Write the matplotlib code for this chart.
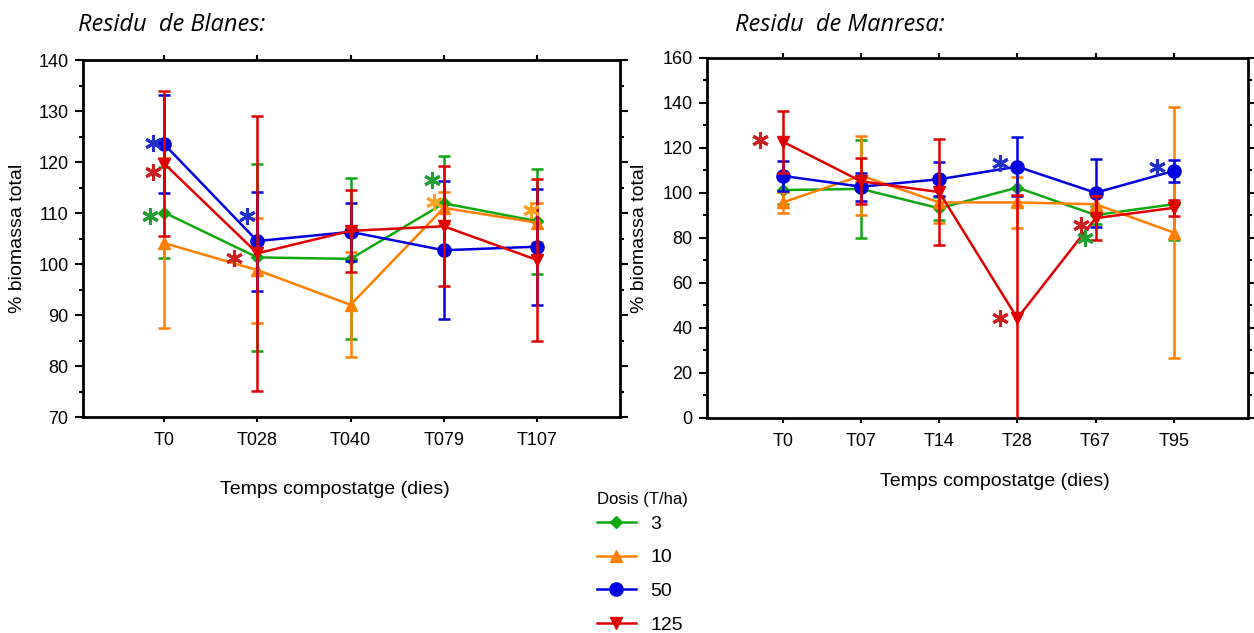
import matplotlib.pyplot as plt
from matplotlib.ticker import MultipleLocator

plt.rcParams['font.family'] = ['Liberation Sans', 'DejaVu Sans']

# --- data -------------------------------------------------------------
doses = ['3', '10', '50', '125']
colors = ['#10a810', '#ff8000', '#0000e0', '#e00000']
star_colors = ['#20a030', '#ffa020', '#2030c8', '#cc2020']
markers = ['D', '^', 'o', 'v']
msizes = [6.5, 9, 9.5, 9]

blanes_times = ['T0', 'T028', 'T040', 'T079', 'T107']
blanes_mean = [
    [110.1, 101.3, 101.0, 111.9, 108.4],   # 3
    [104.1, 98.8, 92.0, 111.0, 108.1],     # 10
    [123.5, 104.5, 106.3, 102.7, 103.4],   # 50
    [119.7, 102.1, 106.5, 107.4, 100.8],   # 125
]
blanes_err = [
    [9.0, 18.3, 15.8, 9.3, 10.3],
    [16.6, 10.3, 10.3, 3.1, 3.8],
    [9.6, 9.7, 5.7, 13.5, 11.4],
    [14.3, 27.0, 8.0, 11.8, 15.8],
]
# significance asterisks: (dose index, time index, x shift, y)
blanes_stars = [(2, 0, -0.12, 123.7), (3, 0, -0.12, 118.0), (0, 0, -0.15, 109.4),
                (2, 1, -0.11, 109.4), (3, 1, -0.25, 101.2), (0, 3, -0.13, 116.5),
                (1, 3, -0.11, 112.2), (1, 4, -0.06, 110.6)]

manresa_times = ['T0', 'T07', 'T14', 'T28', 'T67', 'T95']
manresa_mean = [
    [101.3, 101.8, 93.2, 102.4, 90.2, 95.0],
    [95.8, 107.7, 95.8, 95.8, 95.0, 82.4],
    [107.6, 102.8, 106.1, 111.7, 100.1, 109.8],
    [122.8, 105.2, 100.4, 44.3, 88.8, 93.4],
]
manresa_err = [
    [6.0, 21.8, 5.0, 8.0, 4.0, 16.0],
    [4.5, 17.7, 9.0, 11.3, 3.0, 55.7],
    [6.8, 6.3, 7.5, 13.0, 15.0, 4.7],
    [13.8, 10.2, 23.5, 55.0, 9.7, 3.5],
]
manresa_stars = [(3, 0, -0.29, 123.5), (2, 3, -0.22, 113.3), (2, 5, -0.22, 111.6),
                 (3, 4, -0.19, 85.8), (0, 4, -0.13, 80.0), (3, 3, -0.22, 44.4)]

# --- figure -----------------------------------------------------------
fig = plt.figure(figsize=(12.54, 6.33), dpi=100)
ax1 = fig.add_axes([0.0662, 0.3412, 0.4282, 0.5640])
ax2 = fig.add_axes([0.5638, 0.3397, 0.4314, 0.5687])


def draw(ax, times, means, errs, stars):
    xs = list(range(len(times)))
    lines = []
    for i in range(len(doses)):
        eb = ax.errorbar(xs, means[i], yerr=errs[i], color=colors[i], marker=markers[i],
                         ms=msizes[i], lw=1.8, elinewidth=1.8, capsize=4, capthick=1.8,
                         label=doses[i], zorder=3 + i)
        lines.append(eb[0])
    for d, t, dx, y in stars:
        ax.plot(t + dx, y, marker=(6, 2, 0), ms=12, mew=2.2, color=star_colors[d],
                linestyle='none', zorder=10)
    ax.set_xticks(xs)
    ax.set_xticklabels(times, fontsize=13)
    for sp in ax.spines.values():
        sp.set_linewidth(2)
    ax.tick_params(axis='x', which='major', direction='out', length=3.5, width=1.5,
                   top=True, pad=7)
    ax.tick_params(axis='y', which='major', direction='out', length=5.5, width=1.5,
                   right=True, labelsize=13, pad=5)
    ax.tick_params(axis='y', which='minor', direction='out', length=3, width=1.5, right=True)
    ax.tick_params(axis='x', which='minor', bottom=False, top=False)
    return lines


handles = draw(ax1, blanes_times, blanes_mean, blanes_err, blanes_stars)
ax1.set_xlim(-0.87, 4.89)
ax1.set_ylim(70, 140)
ax1.yaxis.set_major_locator(MultipleLocator(10))
ax1.yaxis.set_minor_locator(MultipleLocator(5))

draw(ax2, manresa_times, manresa_mean, manresa_err, manresa_stars)
ax2.set_xlim(-0.97, 5.95)
ax2.set_ylim(0, 160)
ax2.yaxis.set_major_locator(MultipleLocator(20))
ax2.yaxis.set_minor_locator(MultipleLocator(10))

# titles
title_font = dict(fontsize=17, style='italic', family=['Open Sans', 'DejaVu Sans'],
                  ha='left', va='center')
fig.text(78 / 1254, 1 - 25 / 633, 'Residu  de Blanes:', **title_font)
fig.text(735 / 1254, 1 - 25 / 633, 'Residu  de Manresa:', **title_font)

# axis labels
fig.text(18 / 1254, 1 - 238 / 633, '% biomassa total', rotation=90, fontsize=14,
         ha='center', va='center')
fig.text(640 / 1254, 1 - 238 / 633, '% biomassa total', rotation=90, fontsize=14,
         ha='center', va='center')
fig.text(335 / 1254, 1 - 490 / 633, 'Temps compostatge (dies)', fontsize=14,
         ha='center', va='center')
fig.text(995 / 1254, 1 - 482 / 633, 'Temps compostatge (dies)', fontsize=14,
         ha='center', va='center')

leg = fig.legend(handles=handles, labels=doses, loc='upper left',
                 bbox_to_anchor=(597 / 1254, 1 - 492 / 633), frameon=False,
                 title='Dosis (T/ha)', title_fontsize=12, fontsize=14,
                 alignment='left', handlelength=2.0, handletextpad=0.75,
                 labelspacing=0.82, borderpad=0, borderaxespad=0)
leg._legend_box.sep = 6

fig.savefig('out.png', dpi=100)
